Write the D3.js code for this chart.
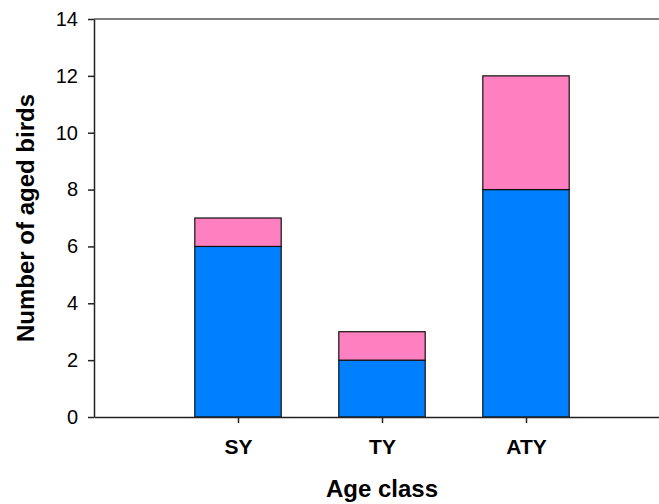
<!DOCTYPE html>
<html>
<head>
<meta charset="utf-8">
<script src="https://cdn.jsdelivr.net/npm/d3@7"></script>
<style>
  body { margin: 0; background: #fff; }
  text { font-family: Arial, "Liberation Sans", Helvetica, sans-serif; }
</style>
</head>
<body>
<svg id="chart"></svg>
<script>
  // chart values
  const categories = ["SY", "TY", "ATY"],
        lowerValues = [6, 2, 8],     // blue part
        upperValues = [1, 1, 4],     // pink part
        yTicks = [0, 2, 4, 6, 8, 10, 12, 14];

  const W = 659, H = 504,
        plotLeft = 94, plotTop = 19, plotBottom = 417,
        plotRight = 670; // plot area runs a bit past the window edge

  let svg = d3.select("#chart")
              .attr("width", W)
              .attr("height", H);

  // one empty slot either side of the categories
  let x = d3.scalePoint()
            .domain(["_start"].concat(categories, ["_end"]))
            .range([plotLeft, plotRight]);

  let y = d3.scaleLinear()
            .domain([0, 14])
            .range([plotBottom, plotTop]);

  let barW = x.step() * 0.6;

  // stack the two series
  let rows = categories.map((c, i) => ({cat: c, lower: lowerValues[i], upper: upperValues[i]}));
  let stack = d3.stack().keys(["lower", "upper"])(rows);
  let colors = {lower: "#0080ff", upper: "#ff80c0"};

  // plot border (top line)
  svg.append("line")
     .attr("x1", plotLeft).attr("x2", plotRight)
     .attr("y1", y(14)).attr("y2", y(14))
     .attr("stroke", "#000")
     .attr("stroke-width", 1.2);

  stack.forEach((s) => {
    svg.append("g")
       .selectAll("rect")
       .data(s)
       .enter()
       .append("rect")
       .attr("x", (d) => x(d.data.cat) - barW / 2)
       .attr("width", barW)
       .attr("y", (d) => y(d[1]))
       .attr("height", (d) => y(d[0]) - y(d[1]))
       .attr("fill", colors[s.key])
       .attr("stroke", "#111")
       .attr("stroke-width", 1.2);
  });

  // y-Axis
  let yAxis = svg.append("g")
                 .attr("transform", "translate(" + plotLeft + ",0)")
                 .call(d3.axisLeft(y).tickValues(yTicks).tickSize(6).tickSizeOuter(0).tickPadding(10));
  yAxis.selectAll("text")
       .attr("font-size", 20)
       .attr("font-family", "Arial, 'Liberation Sans', sans-serif")
       .attr("fill", "#000");

  // x-Axis
  let xAxis = svg.append("g")
                 .attr("transform", "translate(0," + plotBottom + ")")
                 .call(d3.axisBottom(x).tickValues(categories).tickSize(6).tickSizeOuter(0).tickPadding(16));
  xAxis.selectAll("text")
       .attr("font-size", 21)
       .attr("font-weight", "bold")
       .attr("font-family", "Arial, 'Liberation Sans', sans-serif")
       .attr("fill", "#000");

  svg.selectAll(".domain, .tick line")
     .attr("stroke", "#222")
     .attr("stroke-width", 1.5);

  // x-Axis Label
  svg.append("text")
     .attr("x", x("TY"))
     .attr("y", 497)
     .attr("text-anchor", "middle")
     .attr("font-size", 24)
     .attr("font-weight", "bold")
     .text("Age class");

  // y-Axis Label
  svg.append("text")
     .attr("transform", "translate(34," + 218 + ") rotate(-90)")
     .attr("text-anchor", "middle")
     .attr("font-size", 24)
     .attr("font-weight", "bold")
     .text("Number of aged birds");
</script>
</body>
</html>
